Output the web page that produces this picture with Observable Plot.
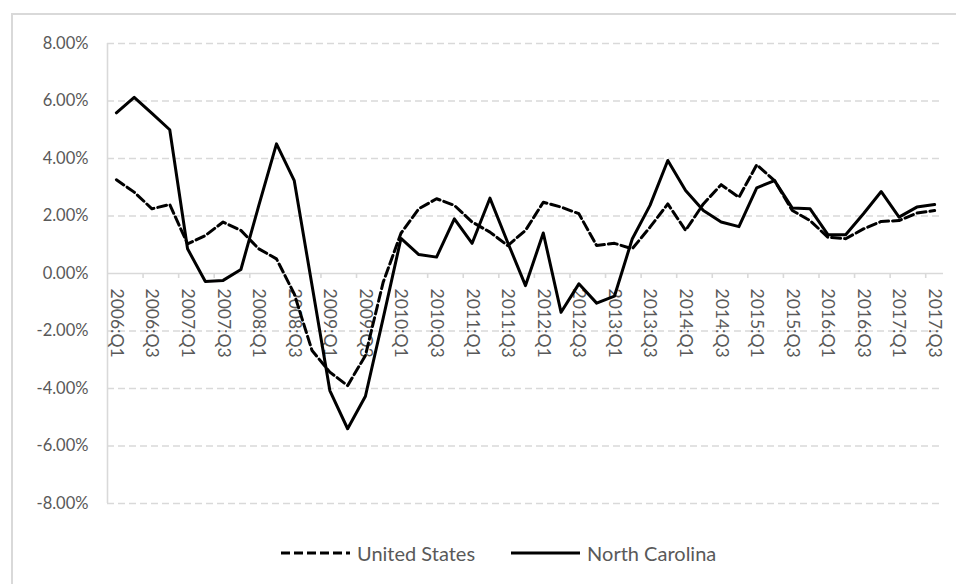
<!DOCTYPE html>
<html>
<head>
<meta charset="utf-8">
<script src="https://cdn.jsdelivr.net/npm/d3@7"></script>
<script src="https://cdn.jsdelivr.net/npm/@observablehq/plot@0.6"></script>
<style>
  html, body { margin: 0; padding: 0; background: #fff; }
  #wrap { position: relative; width: 956px; height: 584px; overflow: hidden; font-family: Lato, "Open Sans", sans-serif; }
  #frame { position: absolute; left: 11px; top: 13px; width: 980px; height: 620px; border: 2px solid #d9d9d9; box-sizing: border-box; }
  #chart { position: absolute; left: 0; top: 0; }
  #legend { position: absolute; left: 281px; top: 530px; height: 46px; display: flex; align-items: center; font-size: 20px; color: #595959; }
  .item { display: flex; align-items: center; }
  .item svg { margin-right: 7px; }
</style>
</head>
<body>
<div id="wrap">
  <div id="frame"></div>
  <div id="chart"></div>
  <div id="legend"></div>
</div>
<script>
const quarters = [];
for (let y = 2006; y <= 2017; y++) {
  for (let q = 1; q <= 4; q++) {
    if (y === 2017 && q === 4) break;
    quarters.push(`${y}:Q${q}`);
  }
}

const seriesNames = ["United States", "North Carolina"];

const unitedStates = [
  3.26, 2.83, 2.25, 2.40, 1.03, 1.32, 1.79, 1.50, 0.86, 0.51,
  -0.71, -2.68, -3.43, -3.90, -2.85, -0.30, 1.40, 2.25, 2.60, 2.37,
  1.79, 1.44, 0.97, 1.50, 2.48, 2.31, 2.08, 0.97, 1.05, 0.86,
  1.61, 2.42, 1.50, 2.42, 3.09, 2.65, 3.78, 3.23, 2.19, 1.84,
  1.26, 1.21, 1.55, 1.81, 1.84, 2.10, 2.19
];

const northCarolina = [
  5.59, 6.13, 5.57, 5.00, 0.86, -0.28, -0.24, 0.14, 2.35, 4.51,
  3.23, -0.42, -4.07, -5.40, -4.27, -1.55, 1.22, 0.66, 0.57, 1.90,
  1.05, 2.62, 1.08, -0.42, 1.41, -1.35, -0.36, -1.03, -0.79, 1.20,
  2.37, 3.93, 2.89, 2.19, 1.79, 1.63, 2.98, 3.23, 2.28, 2.25,
  1.35, 1.35, 2.08, 2.85, 1.96, 2.31, 2.40
];

const yTicks = [-8, -6, -4, -2, 0, 2, 4, 6, 8];

const data = [];
quarters.forEach((q, i) => {
  data.push({i, quarter: q, series: seriesNames[0], value: unitedStates[i]});
  data.push({i, quarter: q, series: seriesNames[1], value: northCarolina[i]});
});

const labelIdx = quarters.map((q, i) => i).filter(i => i % 2 === 0);
const boundaries = labelIdx.filter(i => i > 0).map(i => i - 0.5);

const gridColor = "#d9d9d9";
const textColor = "#595959";

const chart = Plot.plot({
  width: 956,
  height: 530,
  marginLeft: 107,
  marginRight: 13,
  marginTop: 43,
  marginBottom: 27,
  style: { fontFamily: "Lato, 'Open Sans', sans-serif", background: "transparent", overflow: "visible" },
  x: { type: "linear", domain: [-0.5, quarters.length - 0.5], axis: null },
  y: { domain: [-8, 8], ticks: yTicks },
  marks: [
    Plot.gridY(yTicks.filter(d => d !== 0), { stroke: gridColor, strokeOpacity: 1, strokeWidth: 1.3, strokeDasharray: "7,4" }),
    Plot.ruleY([0], { stroke: gridColor, strokeWidth: 1.6 }),
    Plot.ruleX([-0.5], { y1: -8, y2: 8, stroke: gridColor, strokeWidth: 1.6 }),
    Plot.ruleX(boundaries, { x: d => d, y1: 0, y2: 0, insetBottom: -5, stroke: gridColor, strokeWidth: 1.6 }),
    Plot.axisY(yTicks, { tickSize: 0, tickPadding: 19, tickFormat: d => d.toFixed(2) + "%", fontSize: 16.5, fill: textColor, label: null }),
    Plot.text(labelIdx, { x: d => d, y: 0, text: d => quarters[d], rotate: 90, textAnchor: "start", dy: 15, fontSize: 17.5, fill: textColor }),
    Plot.line(data.filter(d => d.series === "United States"), { x: "i", y: "value", stroke: "#000", strokeWidth: 3, strokeDasharray: "9,4", strokeLinejoin: "round" }),
    Plot.line(data.filter(d => d.series === "North Carolina"), { x: "i", y: "value", stroke: "#000", strokeWidth: 3, strokeLinejoin: "round" })
  ]
});
document.getElementById("chart").appendChild(chart);

const legend = document.getElementById("legend");
const dashes = ["9,4", null];
seriesNames.forEach((name, k) => {
  const item = document.createElement("div");
  item.className = "item";
  if (k > 0) item.style.marginLeft = "36px";
  item.innerHTML = `<svg width="69" height="10"><line x1="0" y1="5" x2="69" y2="5" stroke="#000" stroke-width="3" ${dashes[k] ? `stroke-dasharray="${dashes[k]}"` : ""}/></svg><span>${name}</span>`;
  legend.appendChild(item);
});
</script>
</body>
</html>
